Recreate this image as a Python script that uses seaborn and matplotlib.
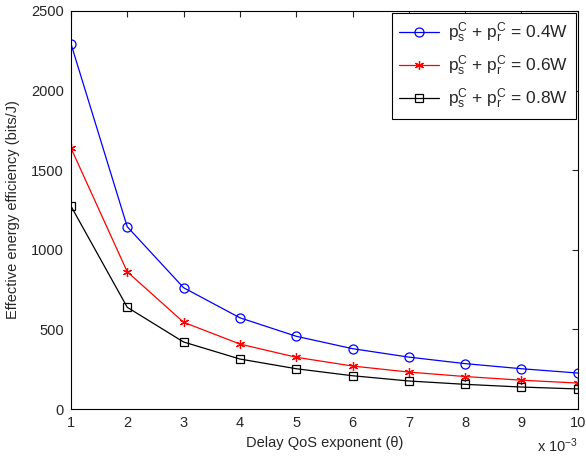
import matplotlib
matplotlib.use("Agg")
import matplotlib.pyplot as plt
import seaborn as sns

# Delay QoS exponent, in units of 1e-3
theta = [1, 2, 3, 4, 5, 6, 7, 8, 9, 10]
ee_04 = [2295, 1145, 762, 573, 457, 379, 326, 285, 253, 226]
ee_06 = [1640, 862, 545, 408, 325, 270, 232, 204, 181, 163]
ee_08 = [1275, 639, 421, 314, 253, 209, 176, 155, 138, 126]
labels = [r"$\mathregular{p_s^C}$ + $\mathregular{p_r^C}$ = 0.4W",
          r"$\mathregular{p_s^C}$ + $\mathregular{p_r^C}$ = 0.6W",
          r"$\mathregular{p_s^C}$ + $\mathregular{p_r^C}$ = 0.8W"]
colors = ["blue", "red", "black"]
markers = ["o", (6, 2, 0), "s"]
msizes = [6.5, 6.5, 5.5]

sns.set_style("white")
plt.rcParams["font.family"] = ["Liberation Sans", "DejaVu Sans"]
plt.rcParams["mathtext.fontset"] = "custom"
plt.rcParams["mathtext.rm"] = "Liberation Sans"
plt.rcParams["mathtext.it"] = "Liberation Sans"

fig = plt.figure(figsize=(5.86, 4.57), dpi=100)
ax = fig.add_axes([0.121, 0.105, 0.865, 0.871])

for y, lab, c, m, ms in zip([ee_04, ee_06, ee_08], labels, colors, markers, msizes):
    sns.lineplot(x=theta, y=y, color=c, marker=m, markersize=ms,
                 markerfacecolor="none", markeredgecolor=c, markeredgewidth=0.9,
                 linewidth=0.9, label=lab, ax=ax)

ax.set_xlim(1, 10)
ax.set_ylim(0, 2500)
ax.set_xticks(theta)
ax.set_yticks([0, 500, 1000, 1500, 2000, 2500])
ax.tick_params(direction="in", top=True, right=True, labelsize=10.5, length=4, width=0.8, pad=5)
for s in ax.spines.values():
    s.set_linewidth(0.8)
    s.set_color("black")
ax.set_xlabel("Delay QoS exponent (θ)", fontsize=10.5, labelpad=4)
ax.set_ylabel("Effective energy efficiency (bits/J)", fontsize=10.5, labelpad=8)
ax.text(1.0, -0.107, r"x 10$^{-3}$", transform=ax.transAxes, ha="right", va="baseline", fontsize=10.5)

leg = ax.legend(loc="upper right", fontsize=12.5, frameon=True, fancybox=False,
                edgecolor="black", framealpha=1, handlelength=2.3,
                borderaxespad=0.1, labelspacing=0.5, handletextpad=0.5,
                borderpad=0.45)
leg.get_frame().set_linewidth(0.8)

fig.savefig("out.png", dpi=100)
